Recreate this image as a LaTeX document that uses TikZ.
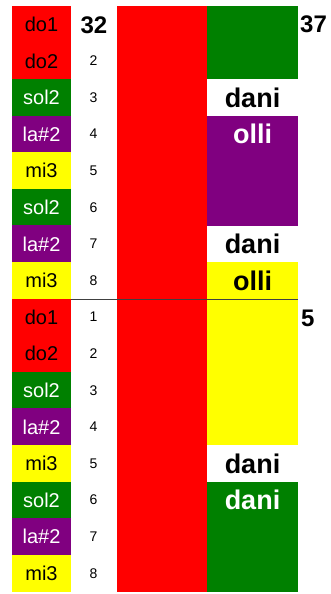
\documentclass[tikz,border=0pt]{standalone}
\usepackage{fontspec}
\setmainfont{Liberation Sans}
\definecolor{notegreen}{RGB}{0,128,0}
\definecolor{notepurple}{RGB}{128,0,128}
\definecolor{noteyellow}{RGB}{255,255,0}
\definecolor{notered}{RGB}{255,0,0}

\tikzset{
  note/.style={minimum width=59pt, minimum height=37pt, inner sep=0pt,
    font=\fontsize{20}{22}\selectfont},
  num/.style={inner sep=0pt, font=\fontsize{14}{16}\selectfont},
  big/.style={inner sep=0pt, font=\fontsize{24}{26}\selectfont\bfseries},
  who/.style={inner sep=0pt, font=\fontsize{27}{29}\selectfont\bfseries},
  blk/.style={minimum width=91pt, inner sep=0pt}
}

\begin{document}
\begin{tikzpicture}[x=1pt, y=-1pt]
    \useasboundingbox (0,0) rectangle (330,594);

    % note column, two times the same eight
    \foreach \h in {0,1}{
      \foreach \nt/\bg/\fg [count=\i] in {do1/notered/black, do2/notered/black,
          sol2/notegreen/white, la\#2/notepurple/white, mi3/noteyellow/black,
          sol2/notegreen/white, la\#2/notepurple/white, mi3/noteyellow/black}
        \node[note, fill=\bg, text=\fg] (note\h\i) at (41.5, {6+36.6*(8*\h+\i-0.5)}) {\nt};
    }

    \node[big] (top) at (94, 25) {32};
    \foreach \i in {2,...,8}
      \node[num] (numa\i) at (93.5, {6+36.6*(\i-0.5)}) {\i};
    \foreach \i in {1,...,8}
      \node[num] (numb\i) at (93.5, {6+36.6*(8+\i-0.5)}) {\i};

    \node[fill=notered, minimum width=90pt, minimum height=586pt, inner sep=0pt] (bar) at (162, 299) {};

    \node[blk, fill=notegreen, minimum height=73.2pt] (grn) at (252.5, 42.6) {};
    \node[blk, fill=notepurple, minimum height=109.8pt] (prp) at (252.5, 170.7) {};
    \node[blk, fill=noteyellow, minimum height=183pt] (yel) at (252.5, 353.7) {};
    \node[blk, fill=notegreen, minimum height=110.2pt] (grn2) at (252.5, 536.9) {};

    \node[who] (dani1) at (252.5, 97.5) {dani};
    \node[who, text=white] (olli1) at (252.5, 134.1) {olli};
    \node[who] (dani2) at (252.5, 243.9) {dani};
    \node[who] (olli2) at (252.5, 280.5) {olli};
    \node[who] (dani3) at (252.5, 463.5) {dani};
    \node[who, text=white] (dani4) at (252.5, 500.1) {dani};

    \node[big, anchor=west] (end) at (300, 24) {37};
    \node[big, anchor=west] (mid) at (301, 318) {5};

    \draw[black!75, line width=1pt] (note08.south east) -- (note08.south east -| yel.east);
  \end{tikzpicture}
\end{document}
